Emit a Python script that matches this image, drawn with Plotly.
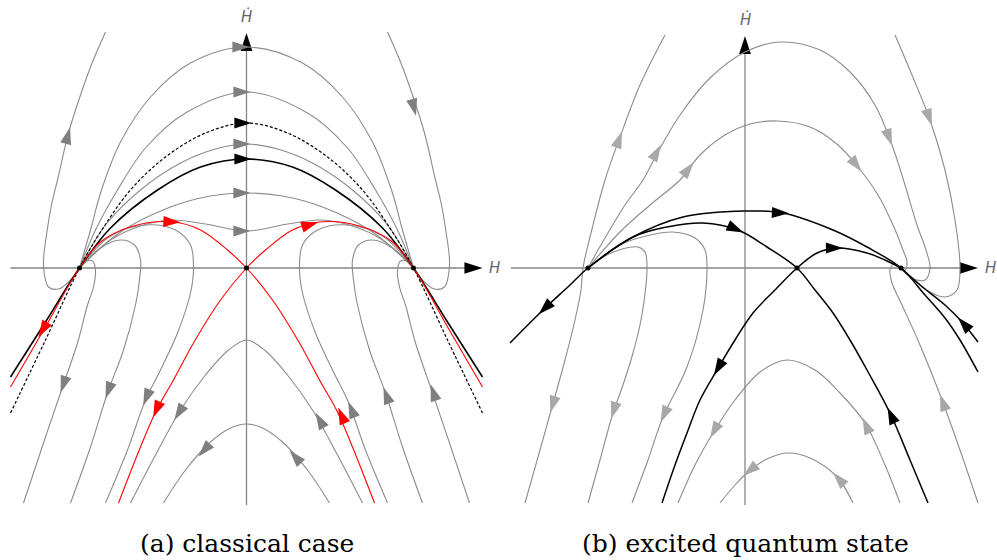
import math
import plotly.graph_objects as go

# ---------------------------------------------------------------------------
# Phase portraits in the (H, Ḣ) plane.  Each trajectory is a pair of lists:
# H values and Ḣ values sampled along the orbit.
# ---------------------------------------------------------------------------

# ---- (a) classical case ----------------------------------------------------
A_FIXED_H = [-1.67, 0.0, 1.67]
A_FIXED_HD = [0.0, 0.0, 0.0]

A_FAR_LEFT_H = [-1.67, -1.76, -1.88, -1.98, -2.02, -2.03, -2.0, -1.95, -1.89, -1.78, -1.66, -1.54, -1.41]
A_FAR_LEFT_HD = [0.0, -0.12, -0.21, -0.19, -0.07, 0.08, 0.33, 0.63, 0.88, 1.35, 1.73, 2.06, 2.36]
A_FAR_RIGHT_H = [1.67, 1.76, 1.88, 1.98, 2.02, 2.03, 2.0, 1.95, 1.89, 1.78, 1.66, 1.54, 1.41]
A_FAR_RIGHT_HD = [0.0, -0.12, -0.21, -0.19, -0.07, 0.08, 0.33, 0.63, 0.88, 1.35, 1.73, 2.06, 2.36]

A_ARC1_H = [-1.67, -1.56, -1.45, -1.26, -0.96, -0.56, 0.0, 0.56, 0.96, 1.26, 1.45, 1.56, 1.67]
A_ARC1_HD = [0.0, 0.38, 0.78, 1.26, 1.71, 2.05, 2.21, 2.05, 1.71, 1.26, 0.78, 0.38, 0.0]
A_ARC2_H = [-1.67, -1.51, -1.29, -1.01, -0.61, 0.0, 0.61, 1.01, 1.29, 1.51, 1.67]
A_ARC2_HD = [0.0, 0.38, 0.78, 1.2, 1.55, 1.76, 1.55, 1.2, 0.78, 0.38, 0.0]
A_ARC3_H = [-1.67, -1.41, -1.06, -0.66, -0.31, 0.0, 0.31, 0.66, 1.06, 1.41, 1.67]
A_ARC3_HD = [0.0, 0.43, 0.78, 1.05, 1.19, 1.24, 1.19, 1.05, 0.78, 0.43, 0.0]
A_ARC4_H = [-1.67, -1.26, -0.76, -0.36, 0.0, 0.36, 0.76, 1.26, 1.67]
A_ARC4_HD = [0.0, 0.36, 0.61, 0.72, 0.75, 0.72, 0.61, 0.36, 0.0]
A_ARC5_H = [-1.67, -1.36, -1.06, -0.74, -0.41, 0.0, 0.41, 0.74, 1.06, 1.36, 1.67]
A_ARC5_HD = [0.0, 0.28, 0.42, 0.48, 0.44, 0.37, 0.44, 0.48, 0.42, 0.28, 0.0]

A_DASHED_H = [-2.36, -2.01, -1.67, -1.46, -1.16, -0.81, -0.41, 0.0, 0.41, 0.81, 1.16, 1.46, 1.67, 2.01, 2.36]
A_DASHED_HD = [-1.45, -0.72, 0.0, 0.36, 0.78, 1.11, 1.35, 1.45, 1.35, 1.11, 0.78, 0.36, 0.0, -0.72, -1.45]
A_BLACK_H = [-2.36, -2.01, -1.67, -1.36, -0.89, -0.46, 0.0, 0.46, 0.89, 1.36, 1.67, 2.01, 2.36]
A_BLACK_HD = [-1.09, -0.54, 0.0, 0.4, 0.78, 1.01, 1.09, 1.01, 0.78, 0.4, 0.0, -0.54, -1.09]

A_RED_IN_H = [-2.36, -2.04, -1.67, -1.46, -1.13, -0.73, -0.46, -0.19, 0.0, 0.26, 0.53, 0.73, 0.9, 1.06, 1.28]
A_RED_IN_HD = [-1.19, -0.64, 0.0, 0.26, 0.42, 0.46, 0.38, 0.18, 0.0, -0.32, -0.75, -1.12, -1.42, -1.79, -2.35]
A_RED_OUT_H = [-1.28, -1.06, -0.9, -0.73, -0.53, -0.26, 0.0, 0.19, 0.46, 0.73, 1.13, 1.46, 1.67, 2.04, 2.36]
A_RED_OUT_HD = [-2.35, -1.79, -1.42, -1.12, -0.75, -0.32, 0.0, 0.18, 0.38, 0.46, 0.42, 0.26, 0.0, -0.64, -1.19]

A_LOOP1_L_H = [-1.67, -1.6, -1.54, -1.51, -1.53, -1.59, -1.69, -1.84, -2.03, -2.23]
A_LOOP1_L_HD = [0.0, 0.07, 0.07, -0.02, -0.19, -0.37, -0.75, -1.19, -1.75, -2.35]
A_LOOP2_L_H = [-1.67, -1.46, -1.26, -1.12, -1.06, -1.07, -1.11, -1.23, -1.39, -1.56, -1.76]
A_LOOP2_L_HD = [0.0, 0.2, 0.28, 0.23, 0.08, -0.12, -0.37, -0.82, -1.25, -1.79, -2.35]
A_LOOP3_L_H = [-1.67, -1.36, -1.01, -0.71, -0.56, -0.53, -0.56, -0.69, -0.86, -1.01, -1.19, -1.41]
A_LOOP3_L_HD = [0.0, 0.32, 0.43, 0.38, 0.23, 0.0, -0.25, -0.65, -1.02, -1.32, -1.82, -2.35]
A_LOOP1_R_H = [1.67, 1.6, 1.54, 1.51, 1.53, 1.59, 1.69, 1.84, 2.03, 2.23]
A_LOOP1_R_HD = [0.0, 0.07, 0.07, -0.02, -0.19, -0.37, -0.75, -1.19, -1.75, -2.35]
A_LOOP2_R_H = [1.67, 1.46, 1.26, 1.12, 1.06, 1.07, 1.11, 1.23, 1.39, 1.56, 1.76]
A_LOOP2_R_HD = [0.0, 0.2, 0.28, 0.23, 0.08, -0.12, -0.37, -0.82, -1.25, -1.79, -2.35]
A_LOOP3_R_H = [1.67, 1.36, 1.01, 0.71, 0.56, 0.53, 0.56, 0.69, 0.86, 1.01, 1.19, 1.41]
A_LOOP3_R_HD = [0.0, 0.32, 0.43, 0.38, 0.23, 0.0, -0.25, -0.65, -1.02, -1.32, -1.82, -2.35]

A_CAP1_H = [-1.16, -0.91, -0.66, -0.41, -0.18, 0.0, 0.18, 0.41, 0.66, 0.91, 1.16]
A_CAP1_HD = [-2.35, -1.87, -1.42, -1.07, -0.82, -0.72, -0.82, -1.07, -1.42, -1.87, -2.35]
A_CAP2_H = [-0.83, -0.61, -0.36, -0.16, 0.0, 0.16, 0.36, 0.61, 0.83]
A_CAP2_HD = [-2.35, -2.02, -1.74, -1.6, -1.56, -1.6, -1.74, -2.02, -2.35]

# arrow heads: position and flow direction (dH, dḢ)
A_GRAY_ARROW_H = [-0.03, -0.02, -0.02, -0.02, -0.02, -1.78, 1.68, -1.84, -1.39, -1.01, -0.69, 0.72, -0.44, 0.47, 1.04, 1.39, 1.86]
A_GRAY_ARROW_HD = [2.21, 1.76, 1.24, 0.75, 0.37, 1.35, 1.58, -1.19, -1.25, -1.32, -1.47, -1.5, -1.84, -1.87, -1.39, -1.25, -1.22]
A_GRAY_ARROW_DIR = [(1, 0), (1, 0), (1, 0), (1, 0), (1, 0), (0.26, 1), (0.26, -1), (-0.34, -1),
                    (-0.36, -1), (-0.4, -1), (-0.62, -1), (-0.55, 1), (-0.9, -1), (-0.9, 1),
                    (-0.41, 1), (-0.36, 1), (-0.34, 1)]
A_RED_ARROW_H = [-0.72, 0.66, 0.94, -0.91, -2.05]
A_RED_ARROW_HD = [0.46, 0.44, -1.45, -1.44, -0.64]
A_RED_ARROW_DIR = [(1, -0.05), (1, 0.3), (-0.43, 1), (-0.43, -1), (-0.58, -1)]
A_BLACK_ARROW_H = [-0.01, -0.01]
A_BLACK_ARROW_HD = [1.45, 1.09]
A_BLACK_ARROW_DIR = [(1, 0), (1, 0)]

# ---- (b) excited quantum state ---------------------------------------------
B_FIXED_H = [-1.57, 0.52, 1.56]
B_FIXED_HD = [0.0, 0.0, 0.0]

B_FAR_LEFT_H = [-2.2, -2.05, -1.93, -1.8, -1.7, -1.64, -1.62, -1.52, -1.4, -1.25, -1.05, -0.8]
B_FAR_LEFT_HD = [-2.35, -1.82, -1.39, -0.92, -0.52, -0.22, 0.0, 0.43, 0.88, 1.31, 1.83, 2.33]
B_ARC1_H = [-1.57, -1.4, -1.2, -1.02, -0.87, -0.65, -0.35, 0.0, 0.35, 0.75, 1.05, 1.3, 1.47, 1.6, 1.72, 1.81, 1.85, 1.8, 1.69, 1.56]
B_ARC1_HD = [0.0, 0.3, 0.63, 0.88, 1.16, 1.53, 1.9, 2.16, 2.26, 2.18, 1.96, 1.63, 1.23, 0.83, 0.43, 0.18, 0.0, -0.12, -0.11, -0.01]
B_ARC2_H = [-1.57, -1.25, -0.95, -0.65, -0.45, -0.2, 0.05, 0.33, 0.65, 0.93, 1.13, 1.33, 1.48, 1.58, 1.62, 1.6, 1.56]
B_ARC2_HD = [0.0, 0.36, 0.63, 0.88, 1.13, 1.33, 1.44, 1.47, 1.41, 1.23, 1.01, 0.73, 0.43, 0.18, 0.06, -0.02, -0.01]
B_FAR_RIGHT_H = [1.5, 1.67, 1.85, 2.0, 2.1, 2.15, 2.12, 2.0, 1.85, 1.7, 1.56]
B_FAR_RIGHT_HD = [2.33, 1.93, 1.48, 0.98, 0.48, 0.01, -0.22, -0.29, -0.24, -0.12, -0.01]
B_LOOP1_H = [-1.57, -1.4, -1.23, -1.07, -1.0, -0.98, -0.99, -1.04, -1.12, -1.22, -1.32, -1.45, -1.57]
B_LOOP1_HD = [0.0, 0.12, 0.19, 0.21, 0.16, 0.03, -0.17, -0.52, -0.85, -1.17, -1.45, -1.92, -2.35]
B_LOOP2_H = [-1.57, -1.25, -0.95, -0.72, -0.5, -0.4, -0.38, -0.42, -0.58, -0.82, -0.97, -1.13]
B_LOOP2_HD = [0.0, 0.23, 0.33, 0.36, 0.3, 0.18, 0.0, -0.42, -0.99, -1.49, -1.92, -2.35]
B_CAP1_H = [-0.67, -0.5, -0.32, -0.1, 0.15, 0.42, 0.7, 0.95, 1.2, 1.4, 1.55]
B_CAP1_HD = [-2.35, -1.97, -1.65, -1.32, -1.04, -0.92, -1.02, -1.25, -1.55, -1.97, -2.35]
B_CAP2_H = [-0.25, -0.1, 0.03, 0.2, 0.42, 0.65, 0.92, 1.08]
B_CAP2_HD = [-2.35, -2.17, -2.04, -1.92, -1.85, -1.9, -2.09, -2.35]
B_RIGHT_H = [2.33, 2.15, 1.97, 1.75, 1.57, 1.47, 1.45, 1.49, 1.56]
B_RIGHT_HD = [-2.35, -1.82, -1.32, -0.77, -0.37, -0.15, -0.02, 0.04, 0.0]

B_BLACK_TOP_H = [-2.35, -2.02, -1.75, -1.57, -1.12, -0.62, 0.0, 0.38, 0.88, 1.22, 1.56, 1.8, 2.0, 2.15, 2.33]
B_BLACK_TOP_HD = [-0.75, -0.42, -0.17, 0.0, 0.31, 0.51, 0.57, 0.55, 0.38, 0.21, 0.0, -0.27, -0.5, -0.72, -1.04]
B_BLACK_IN_H = [-1.57, -1.12, -0.78, -0.42, -0.07, 0.22, 0.52, 0.7, 0.88, 1.05, 1.22, 1.45, 1.65, 1.83]
B_BLACK_IN_HD = [0.0, 0.31, 0.41, 0.45, 0.38, 0.21, 0.0, -0.22, -0.45, -0.72, -1.02, -1.45, -1.92, -2.35]
B_BLACK_OUT_H = [-0.83, -0.7, -0.58, -0.45, -0.28, -0.1, 0.08, 0.3, 0.52, 0.72, 0.92, 1.22, 1.4, 1.56]
B_BLACK_OUT_HD = [-2.35, -1.97, -1.65, -1.32, -1.02, -0.72, -0.45, -0.22, 0.0, 0.15, 0.2, 0.15, 0.08, 0.0]
B_BLACK_SINK_H = [1.56, 1.75, 2.0, 2.17, 2.33]
B_BLACK_SINK_HD = [0.0, -0.17, -0.37, -0.54, -0.74]

B_GRAY_ARROW_H = [-1.25, -0.87, -0.55, 1.45, 1.13, 1.85, -1.93, -1.32, -0.82, -0.32, 1.2, 0.03, 0.92, 1.97]
B_GRAY_ARROW_HD = [1.31, 1.18, 1.01, 1.28, 1.01, 1.48, -1.39, -1.45, -1.49, -1.65, -1.55, -2.04, -2.09, -1.32]
B_GRAY_ARROW_DIR = [(0.37, 1), (0.57, 1), (0.8, 1), (0.37, -1), (0.8, -1), (0.35, -1), (-0.3, -1),
                    (-0.3, -1), (-0.45, -1), (-0.55, -1), (-0.45, 1), (-1, -0.83), (-0.9, 1), (-0.36, 1)]
B_BLACK_ARROW_H = [0.38, -0.07, 0.92, -0.28, 1.45, -2.02, 2.17]
B_BLACK_ARROW_HD = [0.55, 0.38, 0.2, -1.02, -1.45, -0.42, -0.54]
B_BLACK_ARROW_DIR = [(1, -0.05), (1, -0.45), (1, 0), (-0.58, -1), (-0.45, 1), (-1, -0.97), (-0.9, 1)]

# axis extents (H from, H to, Ḣ from, Ḣ to)
A_AXES = (-2.36, 2.36, -2.37, 2.35)
B_AXES = (-2.34, 2.33, -2.37, 2.32)

CAPTIONS = ["(a) classical case", "(b) excited quantum state"]

# ---------------------------------------------------------------------------
GRAY = "#8c8c8c"
AXIS_GRAY = "#858585"
ARROW_A = "#7f7f7f"
ARROW_B = "#a8a8a8"
RED = "#ff0000"

fig = go.Figure()
REFS = {"a": ("x", "y"), "b": ("x2", "y2")}


def curve(h, hd, panel, color, width, dash="solid"):
    xr, yr = REFS[panel]
    fig.add_trace(go.Scatter(
        x=h, y=hd, xaxis=xr, yaxis=yr, mode="lines",
        line=dict(color=color, width=width, dash=dash, shape="spline", smoothing=1.0),
        hoverinfo="skip", showlegend=False))


def heads(h, hd, dirs, panel, color, size=18, lead=0.06):
    xr, yr = REFS[panel]
    ang, xs, ys = [], [], []
    for x0, y0, (dx, dy) in zip(h, hd, dirs):
        n = math.hypot(dx, dy)
        ang.append(math.degrees(math.atan2(dx, dy)))
        # the marker's tip sits a little ahead of the listed point
        xs.append(x0 + lead * dx / n)
        ys.append(y0 + lead * dy / n)
    fig.add_trace(go.Scatter(
        x=xs, y=ys, xaxis=xr, yaxis=yr, mode="markers",
        marker=dict(symbol="arrow", size=size, angle=ang, color=color, line=dict(width=0)),
        hoverinfo="skip", showlegend=False))


def axes(ext, panel):
    h0, h1, v0, v1 = ext
    curve([h0, h1 - 0.06], [0, 0], panel, AXIS_GRAY, 1.3)
    curve([0, 0], [v0, v1 - 0.06], panel, AXIS_GRAY, 1.3)
    heads([h1, 0], [0, v1], [(1, 0), (0, 1)], panel, "black", 19, 0.0)


# panel (a)
axes(A_AXES, "a")
for h, hd in [(A_FAR_LEFT_H, A_FAR_LEFT_HD), (A_FAR_RIGHT_H, A_FAR_RIGHT_HD),
              (A_ARC1_H, A_ARC1_HD), (A_ARC2_H, A_ARC2_HD), (A_ARC3_H, A_ARC3_HD),
              (A_ARC4_H, A_ARC4_HD), (A_ARC5_H, A_ARC5_HD),
              (A_LOOP1_L_H, A_LOOP1_L_HD), (A_LOOP2_L_H, A_LOOP2_L_HD), (A_LOOP3_L_H, A_LOOP3_L_HD),
              (A_LOOP1_R_H, A_LOOP1_R_HD), (A_LOOP2_R_H, A_LOOP2_R_HD), (A_LOOP3_R_H, A_LOOP3_R_HD),
              (A_CAP1_H, A_CAP1_HD), (A_CAP2_H, A_CAP2_HD)]:
    curve(h, hd, "a", GRAY, 1.1)
curve(A_DASHED_H, A_DASHED_HD, "a", "black", 1.2, "3px,2px")
curve(A_BLACK_H, A_BLACK_HD, "a", "black", 1.6)
curve(A_RED_IN_H, A_RED_IN_HD, "a", RED, 1.1)
curve(A_RED_OUT_H, A_RED_OUT_HD, "a", RED, 1.1)
heads(A_GRAY_ARROW_H, A_GRAY_ARROW_HD, A_GRAY_ARROW_DIR, "a", ARROW_A)
heads(A_RED_ARROW_H, A_RED_ARROW_HD, A_RED_ARROW_DIR, "a", RED)
heads(A_BLACK_ARROW_H, A_BLACK_ARROW_HD, A_BLACK_ARROW_DIR, "a", "black")

# panel (b)
axes(B_AXES, "b")
for h, hd in [(B_FAR_LEFT_H, B_FAR_LEFT_HD), (B_ARC1_H, B_ARC1_HD), (B_ARC2_H, B_ARC2_HD),
              (B_FAR_RIGHT_H, B_FAR_RIGHT_HD), (B_LOOP1_H, B_LOOP1_HD), (B_LOOP2_H, B_LOOP2_HD),
              (B_CAP1_H, B_CAP1_HD), (B_CAP2_H, B_CAP2_HD), (B_RIGHT_H, B_RIGHT_HD)]:
    curve(h, hd, "b", GRAY, 1.1)
for h, hd in [(B_BLACK_TOP_H, B_BLACK_TOP_HD), (B_BLACK_IN_H, B_BLACK_IN_HD),
              (B_BLACK_OUT_H, B_BLACK_OUT_HD), (B_BLACK_SINK_H, B_BLACK_SINK_HD)]:
    curve(h, hd, "b", "black", 1.5)
heads(B_GRAY_ARROW_H, B_GRAY_ARROW_HD, B_GRAY_ARROW_DIR, "b", ARROW_B)
heads(B_BLACK_ARROW_H, B_BLACK_ARROW_HD, B_BLACK_ARROW_DIR, "b", "black")

# fixed points
for h, hd, p in [(A_FIXED_H, A_FIXED_HD, "a"), (B_FIXED_H, B_FIXED_HD, "b")]:
    xr, yr = REFS[p]
    fig.add_trace(go.Scatter(x=h, y=hd, xaxis=xr, yaxis=yr, mode="markers",
                             marker=dict(size=5, color="black"), hoverinfo="skip", showlegend=False))

# axis labels
label_font = dict(family="DejaVu Sans", size=15, color="#666666")
for ext, xr, yr in [(A_AXES, "x", "y"), (B_AXES, "x2", "y2")]:
    fig.add_annotation(x=ext[1] + 0.12, y=0, xref=xr, yref=yr, text="<i>H</i>",
                       showarrow=False, font=label_font)
    fig.add_annotation(x=0, y=ext[3] + 0.17, xref=xr, yref=yr, text="<i>Ḣ</i>",
                       showarrow=False, font=label_font)

# captions
cap_font = dict(family="DejaVu Serif", size=25, color="black")
fig.add_annotation(x=0.0, y=-2.75, xref="x", yref="y", text=CAPTIONS[0], showarrow=False, font=cap_font)
fig.add_annotation(x=0.0, y=-2.75, xref="x2", yref="y2", text=CAPTIONS[1], showarrow=False, font=cap_font)

hidden = dict(visible=False, showgrid=False, zeroline=False, fixedrange=True)
fig.update_layout(
    width=997, height=560, margin=dict(l=0, r=0, t=0, b=0),
    paper_bgcolor="white", plot_bgcolor="white", showlegend=False,
    xaxis=dict(domain=[0, 500 / 997], range=[-2.465, 2.535], **hidden),
    yaxis=dict(domain=[0, 1], range=[-2.92, 2.68], **hidden),
    xaxis2=dict(domain=[500 / 997, 1], range=[-2.45, 2.52], anchor="y2", **hidden),
    yaxis2=dict(domain=[0, 1], range=[-2.92, 2.68], anchor="x2", **hidden),
)

fig.write_html("out.html")
